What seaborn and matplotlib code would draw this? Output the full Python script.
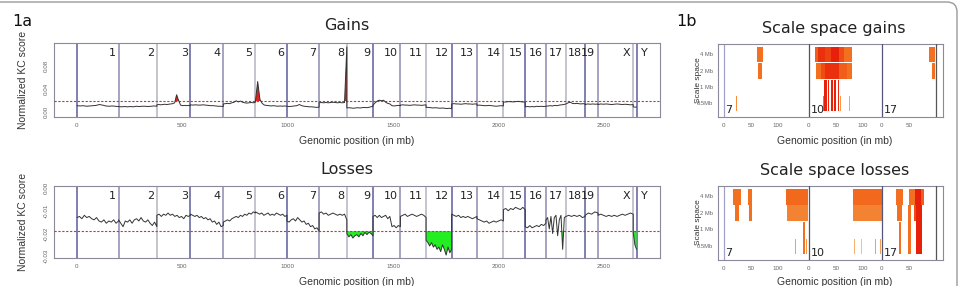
import numpy as np
import seaborn as sns
import matplotlib.pyplot as plt
import matplotlib.transforms as mtransforms
from matplotlib.colors import LinearSegmentedColormap
from matplotlib.patches import FancyBboxPatch

sns.set_style("white")
plt.rcParams['font.family'] = ['Liberation Sans', 'DejaVu Sans']

# mouse genome (mm9), chromosome lengths in mb
chrom_names = ['1', '2', '3', '4', '5', '6', '7', '8', '9', '10', '11', '12',
               '13', '14', '15', '16', '17', '18', '19', 'X', 'Y']
chrom_len = [197.2, 181.7, 159.6, 155.6, 152.5, 149.5, 152.5, 131.7, 124.1, 130.0,
             121.8, 121.3, 120.3, 125.2, 103.5, 98.3, 95.3, 90.8, 61.3, 166.7, 15.9]

gain_thr = 0.019
loss_thr = -0.019

# normalized KC score along each chromosome (x 1e-3), one row per chromosome
gains_kc = [
    [11, 10.5, 11, 10, 10.5, 11, 11.5, 13, 12, 10.5, 10, 10.5, 10, 9.5],
    [9.5, 9, 9.5, 9, 9.5, 9, 10, 9.5, 10, 10, 9.5, 10, 10.5, 10],
    [12.5, 13, 12.5, 13, 13.5, 13, 13.5, 14, 14.5, 16, 30, 20, 12, 11, 11.5, 11, 11.5, 11],
    [12.5, 12, 12.5, 12, 12, 12.5, 12, 11.5, 11, 11, 10.5, 10, 10, 9.5],
    [14, 14.5, 15, 14.5, 16, 17, 19.5, 17.5, 19, 17, 16, 15.5, 16, 16.5, 16, 17],
    [19, 53, 22, 15, 12, 11.5, 11, 10.5, 11, 10.5, 10, 10.5, 10, 10.5, 10],
    [10, 9.5, 10, 10.5, 11, 13, 11, 10, 9.5, 9, 9, 8.5, 8, 8.5],
    [16, 16.5, 16, 16.5, 16, 16.5, 17, 16.5, 16, 16.5, 16, 16.5, 113],
    [7, 7.5, 7, 6.5, 7, 7.5, 7, 7.5, 8, 7.5, 8, 9, 10],
    [12, 16, 19, 20.5, 19.5, 20.5, 17, 15, 14, 11, 10.5, 11, 11.5, 11],
    [12, 12.5, 12, 12, 11.5, 12, 12.5, 12, 12, 11.5, 12, 12.5],
    [8, 8, 7.5, 7, 7.5, 7, 6.5, 7, 6.5, 6, 6.5, 6],
    [14, 14.5, 14, 14, 13.5, 14, 14.5, 14, 14, 13.5, 14, 14],
    [11.5, 12, 11.5, 11, 11, 11.5, 11, 10.5, 10, 10.5, 11, 10.5],
    [17, 17.5, 18, 18, 17.5, 18, 18.5, 18, 17.5, 17],
    [9, 9.5, 9, 9.5, 9, 10, 9.5, 10, 9.5, 10],
    [10, 10.5, 11, 10.5, 11.5, 11, 12, 12.5, 13, 14],
    [14, 16, 17, 15, 14.5, 15, 14.5, 14, 14.5, 14],
    [13, 14, 13.5, 14, 13.5, 14],
    [13, 14, 13.5, 14, 13.5, 13, 13.5, 14, 13.5, 13, 13.5, 13, 12.5, 13],
    [9, 8.5, 8.5],
]

losses_kc = [
    [-13, -12.5, -13.5, -12, -13, -12.5, -13.5, -14, -13, -14.5, -15, -14, -15.5, -14.5, -15, -14, -15.5, -14.5],
    [-14, -15.5, -17, -14.5, -15, -14, -15.5, -14, -13.5, -14.5, -13, -14.5, -15, -14, -15.5, -16.5, -15, -17],
    [-12, -11.5, -12.5, -11.5, -12, -11, -12, -11.5, -12.5, -12, -13, -12.5, -13.5, -12, -12.5, -12],
    [-11.5, -12, -12.5, -12, -13, -12.5, -13.5, -13, -14, -13.5, -15, -14.5, -16, -15, -17, -16.5],
    [-15, -14.5, -14, -14.5, -13.5, -13, -12.5, -13, -12, -12.5, -11.5, -12, -11, -11.5, -10.5, -11],
    [-10.5, -11, -11.5, -11, -12, -11.5, -11, -12, -11.5, -12, -11, -11.5, -12, -11.5, -12.5, -12],
    [-14.5, -15, -14, -13.5, -14.5, -13, -14, -15, -14.5, -16, -15.5, -17, -16.5, -18, -17.5, -19],
    [-11, -10.5, -11.5, -11, -12, -11.5, -11, -11.5, -12, -11.5, -12, -11.5, -14],
    [-20, -21.5, -20.5, -22, -21, -20.5, -21.5, -20, -21, -19.5, -20.5, -19.5, -20, -21],
    [-12.5, -12, -13, -12, -13, -12.5, -12, -13.5, -12.5, -17, -16.5, -17.5, -16.5, -17],
    [-12.5, -12, -11.5, -12.5, -12, -11.5, -12, -12.5, -12, -11.5, -12, -13],
    [-23, -24, -25.5, -24, -26, -25, -27, -26, -28, -25, -27, -29.5, -26, -28.5, -27],
    [-11.5, -12, -12.5, -12, -13, -12.5, -13, -12.5, -13, -13.5, -13, -12.5],
    [-13.5, -14, -14.5, -15, -14.5, -15.5, -15, -14.5, -15, -14.5, -14, -14.5],
    [-9.5, -9, -10, -9, -9.5, -8.5, -9, -9.5, -8.5, -9.5],
    [-17, -17.5, -16.5, -17.5, -17, -16.5, -17, -16, -16.5, -15.5],
    [-14, -13, -18, -12.5, -20, -13, -12, -21, -14, -12, -27, -13, -12.5],
    [-12.5, -12, -12.5, -12, -12.5, -12, -13, -12.5],
    [-12, -11, -11.5, -10.5, -11],
    [-12, -11.5, -12, -12.5, -12, -12.5, -12, -12.5, -12, -11.5, -12, -11.5, -11, -11.5],
    [-19.5, -25, -27],
]

# scale space panels: chromosomes 7, 10, 17
ss_chroms = ['7', '10', '17']
ss_scales = ['0.5Mb', '1 Mb', '2 Mb', '4 Mb']
ss_ticks = [[0, 50, 100], [0, 50, 100], [0, 50]]

# gains: chromosome index, start/end (mb), lowest/highest scale level, score
ssg_chrom = [0, 0, 0,
             1, 1, 1, 1, 1, 1,
             1, 1, 1, 1, 1,
             1, 1, 1, 1, 1,
             1, 1, 1,
             2, 2]
ssg_start = [61, 63, 23,
             11.5, 17, 30, 40, 55, 65,
             13, 22, 30, 55, 70,
             28.3, 34.6, 40.7, 46.3, 53,
             26.5, 57, 74.6,
             87.6, 93]
ssg_end = [72, 70, 25,
           17, 30, 40, 55, 65, 79,
           22, 30, 55, 70, 79,
           32.8, 37.6, 45, 50, 55.5,
           28.3, 59, 76.5,
           98.7, 98.7]
ssg_lo = [3, 2, 0,
          3, 3, 3, 3, 3, 3,
          2, 2, 2, 2, 2,
          0, 0, 0, 0, 0,
          0, 0, 0,
          3, 2]
ssg_hi = [3, 2, 0,
          3, 3, 3, 3, 3, 3,
          2, 2, 2, 2, 2,
          1, 1, 1, 1, 1,
          0, 0, 0,
          3, 2]
ssg_score = [0.5, 0.5, 0.35,
             0.62, 0.9, 0.8, 1.0, 0.75, 0.5,
             0.5, 0.75, 0.9, 0.62, 0.5,
             1.0, 1.0, 1.0, 1.0, 0.95,
             0.5, 0.3, 0.2,
             0.5, 0.5]

# losses
ssl_chrom = [0, 0, 0, 0, 0, 0, 0, 0, 0,
             1, 1, 1, 1, 1, 1,
             2, 2, 2, 2, 2, 2, 2, 2, 2]
ssl_start = [17, 20.5, 45, 46.5, 115, 117, 145.7, 131.5, 151.5,
             82, 82, 82.7, 97, 121.6, 130.9,
             26, 28.4, 32, 50, 61, 72, 48.7, 60, 63]
ssl_end = [31, 28, 52.5, 52, 156, 156, 150, 134, 153.5,
           134.5, 134.5, 84.6, 98.8, 123.5, 133.3,
           39.5, 36.5, 35.8, 61, 72, 78, 53, 63, 74.7]
ssl_lo = [3, 2, 3, 2, 3, 2, 0, 0, 0,
          3, 2, 0, 0, 0, 0,
          3, 2, 0, 3, 3, 3, 0, 2, 0]
ssl_hi = [3, 2, 3, 2, 3, 2, 1, 0, 0,
          3, 2, 0, 0, 0, 0,
          3, 2, 1, 3, 3, 3, 2, 2, 2]
ssl_score = [0.5, 0.5, 0.5, 0.5, 0.55, 0.4, 0.5, 0.25, 0.3,
             0.55, 0.4, 0.15, 0.05, 0.25, 0.25,
             0.5, 0.5, 0.5, 0.5, 1.0, 0.62, 0.5, 0.75, 1.0]

# ---- layout helpers
W, H = 959, 286
ss_offset = [0, 157, 292]
ss_end_line = 392
bound_cols = ['#5c5c9c', '#8c8cb0', '#b4b4c4']
box_col = '#8a8a9a'
title_font = ['DejaVu Sans']
heat = LinearSegmentedColormap.from_list(
    'heat', ['#f9c890', '#f5a050', '#f27020', '#f04a15', '#e8200a'])


def px(x, y):
    return x / W, 1 - y / H


def add_ax(left, top, right, bottom):
    return fig.add_axes([left / W, 1 - bottom / H, (right - left) / W, (bottom - top) / H])


starts = np.concatenate([[0], np.cumsum(chrom_len)[:-1]])
ends = np.cumsum(chrom_len)


def genome_track(vals):
    xs, ys = [], []
    for s, L, v in zip(starts, chrom_len, vals):
        xs.extend(np.linspace(s, s + L, len(v)))
        ys.extend(np.array(v) * 1e-3)
    return np.array(xs), np.array(ys)


def style_box(ax):
    for sp in ax.spines.values():
        sp.set_color(box_col)
        sp.set_linewidth(0.8)
    ax.tick_params(length=2.5, width=0.6, color='#777777', labelcolor='#666666',
                   labelsize=4.5, pad=1.5)


def genome_panel(ax, vals, thr, fill_col, ylim, yticks, ylabels):
    x, y = genome_track(vals)
    ax.set_xlim(-109, 2766)
    ax.set_ylim(*ylim)
    for i, e in enumerate(np.concatenate([[0], ends])):
        ax.axvline(e, color=bound_cols[i % 3], lw=1.1, zorder=1)
    where = y > thr if thr > 0 else y < thr
    ax.fill_between(x, y, thr, where=where, interpolate=True, color=fill_col, lw=0, zorder=2)
    ax.axhline(thr, color='#cc3333', lw=0.8, ls=(0, (2, 1.5)), zorder=3)
    sns.lineplot(x=x, y=y, ax=ax, estimator=None, sort=False, color='#333333', lw=0.7, zorder=4)
    trans = mtransforms.blended_transform_factory(ax.transData, ax.transAxes)
    for name, e in zip(chrom_names, ends):
        dx, ha = (3, 'left') if name == 'Y' else (-2, 'right')
        ax.annotate(name, xy=(e, 1), xycoords=trans, xytext=(dx, -3.5),
                    textcoords='offset points', ha=ha, va='top', fontsize=8,
                    color='#222222', family=title_font)
    ax.set_xticks([0, 500, 1000, 1500, 2000, 2500])
    ax.set_xticklabels(['0', '500', '1000', '1500', '2000', '2500'])
    ax.set_yticks(yticks)
    ax.set_yticklabels(ylabels, rotation=90, va='center')
    ax.set_xlabel('')
    ax.set_ylabel('')
    style_box(ax)


def scale_panel(ax, chrom, start, end, lo, hi, score):
    ax.set_xlim(-11, 405)
    ax.set_ylim(-0.84, 3.62)
    off = np.array(ss_offset)[np.array(chrom)]
    x0 = off + np.array(start)
    w = np.array(end) - np.array(start)
    b = np.array(lo) - 0.5
    h = np.array(hi) + 0.45 - b
    ax.bar(x0, h, width=w, bottom=b, align='edge', color=heat(np.array(score)), lw=0, zorder=2)
    ax.axvline(0, color='#a0a0c8', lw=0.9, zorder=1)
    ax.axvline(ss_offset[1], color='#555555', lw=0.9, zorder=3)
    ax.axvline(ss_offset[2], color='#55557a', lw=0.9, zorder=3)
    ax.axvline(ss_end_line, color='#555555', lw=0.9, zorder=3)
    for name, o in zip(ss_chroms, ss_offset):
        ax.text(o + 3, -0.72, name, fontsize=8, color='#222222', ha='left', va='bottom',
                zorder=4, family=title_font)
    ticks, labs = [], []
    for o, tl in zip(ss_offset, ss_ticks):
        for t in tl:
            ticks.append(o + t)
            labs.append(str(t))
    ax.set_xticks(ticks)
    ax.set_xticklabels(labs)
    ax.set_yticks([0, 1, 2, 3])
    ax.set_yticklabels(ss_scales)
    style_box(ax)
    ax.tick_params(axis='y', labelsize=4.2, pad=1)


fig = plt.figure(figsize=(W / 100, H / 100), dpi=100)

ax_g = add_ax(54, 43, 660, 117)
genome_panel(ax_g, gains_kc, gain_thr, '#e8201a', (-0.0087, 0.1200),
             [0, 0.02, 0.04, 0.06, 0.08, 0.10], ['0.00', '', '0.04', '', '0.08', ''])

ax_l = add_ax(54, 186, 660, 258)
genome_panel(ax_l, losses_kc, loss_thr, '#22ee22', (-0.0308, 0.0009),
             [-0.03, -0.025, -0.02, -0.015, -0.01, -0.005, 0],
             ['-0.03', '', '-0.02', '', '-0.01', '', '0.00'])

ax_sg = add_ax(718, 44, 943, 117)
scale_panel(ax_sg, ssg_chrom, ssg_start, ssg_end, ssg_lo, ssg_hi, ssg_score)

ax_sl = add_ax(718, 186, 943, 260)
scale_panel(ax_sl, ssl_chrom, ssl_start, ssl_end, ssl_lo, ssl_hi, ssl_score)

# titles and labels
fig.text(*px(12, 21), '1a', fontsize=11.5, ha='left', va='center', color='#111111', family=title_font)
fig.text(*px(676, 21), '1b', fontsize=11.5, ha='left', va='center', color='#111111', family=title_font)
fig.text(*px(347, 25), 'Gains', fontsize=11.5, ha='center', va='center', color='#222222', family=title_font)
fig.text(*px(347, 170), 'Losses', fontsize=11.5, ha='center', va='center', color='#222222', family=title_font)
fig.text(*px(834, 28), 'Scale space gains', fontsize=11.5, ha='center', va='center',
         color='#222222', family=title_font)
fig.text(*px(835, 171), 'Scale space losses', fontsize=11.5, ha='center', va='center',
         color='#222222', family=title_font)
for yy in (141, 282):
    fig.text(*px(357, yy), 'Genomic position (in mb)', fontsize=7.5, ha='center', va='center',
             color='#333333')
    fig.text(*px(835, yy), 'Genomic position (in mb)', fontsize=7.5, ha='center', va='center',
             color='#333333')
for yy in (80, 222):
    fig.text(*px(23, yy), 'Normalized KC score', fontsize=7.5, ha='center', va='center',
             rotation=90, color='#333333')
for yy in (80, 222):
    fig.text(*px(698, yy), 'Scale space', fontsize=6, ha='center', va='center',
             rotation=90, color='#333333')

# rounded frame around the figure
frame = FancyBboxPatch((-0.3, -0.3), 9.57 + 0.3, 2.84 + 0.3,
                       boxstyle='round,pad=0,rounding_size=0.1',
                       transform=fig.dpi_scale_trans, fill=False, ec='#9a9a9a', lw=1.0)
fig.add_artist(frame)

fig.savefig('out.png', dpi=100)
